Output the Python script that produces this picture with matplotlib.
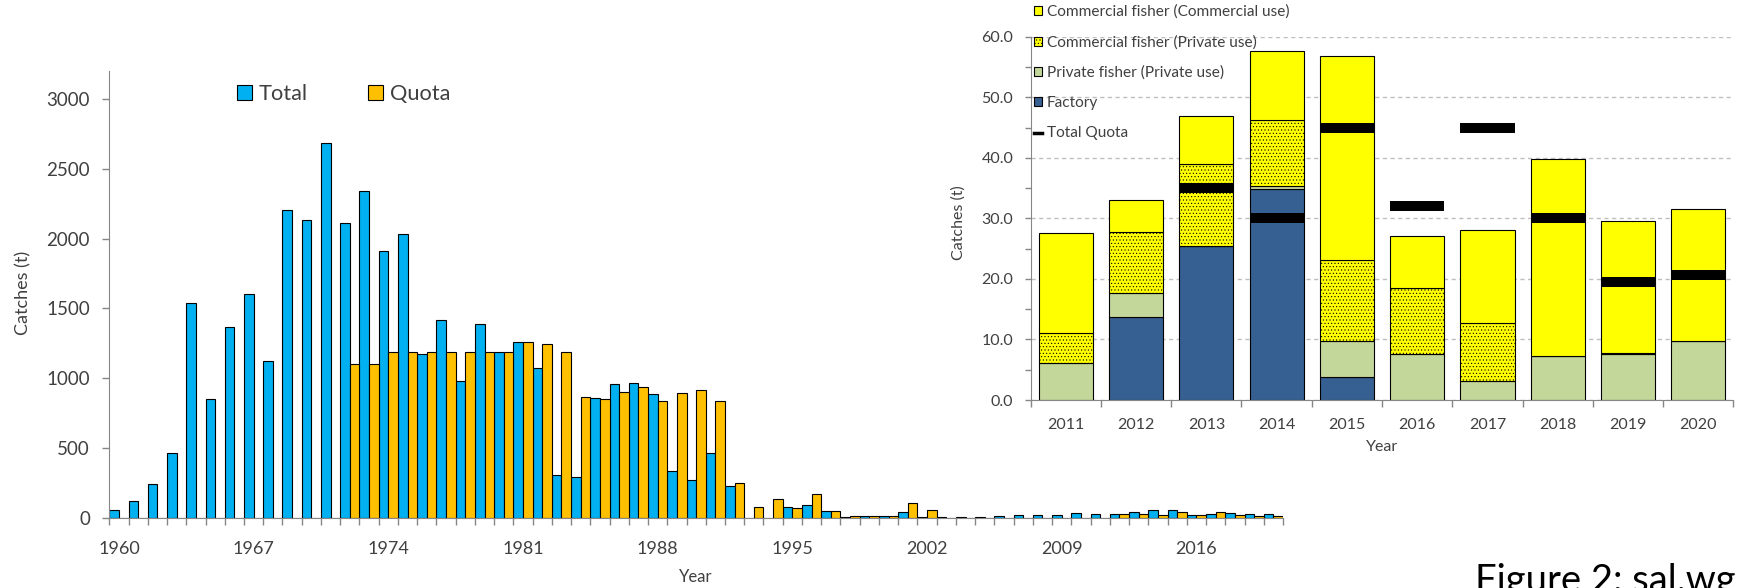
import numpy as np
import matplotlib
matplotlib.use("Agg")
import matplotlib.pyplot as plt
from matplotlib.lines import Line2D
from matplotlib.ticker import FormatStrFormatter

plt.rcParams['font.family'] = ['Lato', 'DejaVu Sans']
plt.rcParams['hatch.linewidth'] = 0.4

# Yearly catches and quota, 1960-2020 (t)
years = list(range(1960, 2021))
total = [57, 124, 243, 464, 1536, 855, 1369, 1600, 1126, 2207,
         2136, 2686, 2112, 2338, 1914, 2029, 1174, 1417, 981, 1390,
         1186, 1262, 1074, 307, 293, 862, 957, 964, 888, 338,
         274, 470, 233, 0, 0, 83, 93, 55, 10, 14,
         19, 45, 10, 7, 12, 12, 17, 21, 21, 21,
         38, 27.5, 33.1, 46.9, 57.7, 56.9, 27.1, 28.1, 39.8, 29.5,
         31.6]
quota = [0, 0, 0, 0, 0, 0, 0, 0, 0, 0,
         0, 0, 1100, 1100, 1188, 1188, 1188, 1186, 1186, 1186,
         1186, 1262, 1248, 1186, 869, 850, 905, 936, 836, 898,
         919, 836, 255, 83, 136, 72, 174, 55, 19, 19,
         19, 112, 56, 0, 0, 0, 0, 0, 0, 0,
         0, 0, 28, 29, 25, 42, 26, 42, 26, 20,
         19]

# Catches by fisher type and use, 2011-2020 (t)
recent_years = [2011, 2012, 2013, 2014, 2015, 2016, 2017, 2018, 2019, 2020]
factory = [0, 13.65, 25.5, 34.9, 3.85, 0, 0, 0, 0, 0]
private_fisher = [6.05, 4.05, 0, 0.5, 5.85, 7.6, 3.1, 7.3, 7.65, 9.7]
commercial_private = [4.95, 10.0, 13.5, 10.8, 13.4, 10.9, 9.7, 0, 0.15, 0]
commercial_commercial = [16.5, 5.4, 7.9, 11.5, 33.75, 8.6, 15.3, 32.5, 21.7, 21.9]
total_quota = [np.nan, np.nan, 35.0, 30.0, 45.0, 32.0, 45.0, 30.0, 19.5, 20.6]

TEXT = '#404040'
AXIS = '#868686'

fig = plt.figure(figsize=(17.38, 5.88), dpi=100)

# long series: total catch vs quota
ax = fig.add_axes([0.0629, 0.1185, 0.6753, 0.7613])
x = np.arange(len(years))
ax.bar(x - 0.25, total, width=0.5, color='#00B0F0', edgecolor='black',
       linewidth=0.8, label='Total')
ax.bar(x + 0.25, quota, width=0.5, color='#FFC000', edgecolor='black',
       linewidth=0.8, label='Quota')
ax.set_xlim(-0.5, len(years) - 0.5)
ax.set_ylim(0, 3200)
ax.set_yticks(range(0, 3001, 500))
ax.set_xticks(x[::7])
ax.set_xticklabels(years[::7])
ax.set_xticks(np.arange(len(years) + 1) - 0.5, minor=True)
ax.tick_params(axis='x', which='major', length=0, pad=16, labelsize=13, labelcolor=TEXT)
ax.tick_params(axis='x', which='minor', length=5, width=1, color=AXIS)
ax.tick_params(axis='y', length=5, width=1, color=AXIS, pad=9, labelsize=13.5, labelcolor=TEXT)
for s in ['top', 'right']:
    ax.spines[s].set_visible(False)
for s in ['left', 'bottom']:
    ax.spines[s].set_color(AXIS)
ax.set_ylabel('Catches (t)', fontsize=13, color=TEXT)
ax.yaxis.set_label_coords(-0.0667, 0.503)
ax.set_xlabel('Year', fontsize=12, color=TEXT)
ax.xaxis.set_label_coords(0.5, -0.113)
ax.legend(ncol=2, frameon=False, fontsize=15.7, labelcolor=TEXT,
          handlelength=0.69, handleheight=0.69, handletextpad=0.28,
          columnspacing=2.8, loc='upper left', borderpad=0, borderaxespad=0,
          bbox_to_anchor=(0.1364, 0.857), bbox_transform=fig.transFigure)

# inset: recent years split by fisher type
ax2 = fig.add_axes([0.5930, 0.3197, 0.4044, 0.6179])
ax2.set_facecolor('none')
xr = np.arange(len(recent_years))
w = 0.77
bottom = np.zeros(len(recent_years))
ax2.bar(xr, factory, w, bottom=bottom, color='#366092', edgecolor='black',
        linewidth=0.8, label='Factory', zorder=2)
bottom += factory
ax2.bar(xr, private_fisher, w, bottom=bottom, color='#C4D79B', edgecolor='black',
        linewidth=0.8, label='Private fisher (Private use)', zorder=2)
bottom += private_fisher
ax2.bar(xr, commercial_private, w, bottom=bottom, color='#FFFF00', edgecolor='black',
        linewidth=0.8, hatch='.....', label='Commercial fisher (Private use)', zorder=2)
bottom += commercial_private
ax2.bar(xr, commercial_commercial, w, bottom=bottom, color='#FFFF00', edgecolor='black',
        linewidth=0.8, label='Commercial fisher (Commercial use)', zorder=2)

q = np.array(total_quota)
has_q = ~np.isnan(q)
ax2.hlines(q[has_q], xr[has_q] - w / 2, xr[has_q] + w / 2, colors='black',
           linewidth=7.2, zorder=3)

ax2.set_xlim(-0.5, len(recent_years) - 0.5)
ax2.set_ylim(0, 60)
ax2.set_yticks(np.arange(0, 61, 10))
ax2.set_yticks(np.arange(5, 60, 10), minor=True)
ax2.yaxis.set_major_formatter(FormatStrFormatter('%.1f'))
ax2.set_xticks(xr)
ax2.set_xticklabels(recent_years)
ax2.set_xticks(np.arange(len(recent_years) + 1) - 0.5, minor=True)
ax2.grid(axis='y', which='major', linestyle=(0, (3, 2.5)), color='#BFBFBF', linewidth=1)
ax2.set_axisbelow(True)
ax2.tick_params(axis='x', which='major', length=0, pad=13, labelsize=11.5, labelcolor=TEXT)
ax2.tick_params(axis='x', which='minor', length=5, width=1, color=AXIS)
ax2.tick_params(axis='y', which='both', length=4, width=1, color=AXIS, pad=8.5,
                labelsize=11.5, labelcolor=TEXT)
for s in ['top', 'right']:
    ax2.spines[s].set_visible(False)
for s in ['left', 'bottom']:
    ax2.spines[s].set_color(AXIS)
ax2.set_ylabel('Catches (t)', fontsize=11.5, color=TEXT)
ax2.yaxis.set_label_coords(-0.093, 0.487)
ax2.set_xlabel('Year', fontsize=11.5, color=TEXT)
ax2.xaxis.set_label_coords(0.4994, -0.11)

handles, labels = ax2.get_legend_handles_labels()
order = [3, 2, 1, 0]
handles = [handles[i] for i in order] + [Line2D([], [], color='black', linewidth=2.5)]
labels = [labels[i] for i in order] + ['Total Quota']
ax2.legend(handles, labels, frameon=False, fontsize=11.1, labelcolor=TEXT,
           handlelength=0.52, handleheight=0.52, handletextpad=0.33,
           labelspacing=1.05, loc='upper left', borderpad=0, borderaxespad=0,
           bbox_to_anchor=(0.5949, 0.992), bbox_transform=fig.transFigure)

fig.text(0.8487, -0.006, 'Figure 2: sal.wg', fontsize=27.5, color='black', va='baseline')

fig.savefig('out.png', dpi=100)
